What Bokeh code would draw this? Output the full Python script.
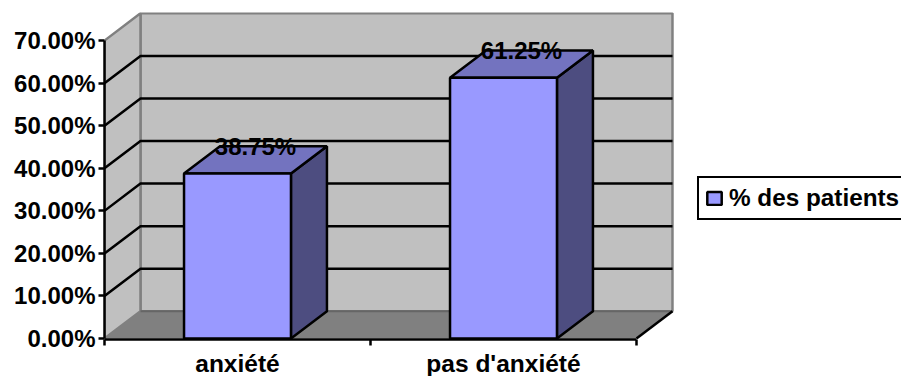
from bokeh.core.properties import value
from bokeh.embed import file_html
from bokeh.models import FixedTicker, Legend, LegendItem, PrintfTickFormatter, Range1d
from bokeh.plotting import figure
from bokeh.resources import INLINE

categories = ["anxiété", "pas d'anxiété"]
values = [38.75, 61.25]
y_ticks = [0, 10, 20, 30, 40, 50, 60, 70]
grid_levels = [10, 20, 30, 40, 50, 60]
series_name = "% des patients"

# Oblique depth of the 3D box, in data units
DX = 0.1353
DY = 6.4
BAR_W = 0.402
FLOOR_END = 2.0
WALL_TOP = 70.0
LINE_W = 2.5

FRONT = "#9999FF"
TOP = "#7373BF"
SIDE = "#4D4D80"
WALL = "#C0C0C0"
FLOOR = "#808080"
FONT = "Liberation Sans"

p = figure(
    width=901, height=376, output_backend="svg", toolbar_location=None,
    x_range=Range1d(0, 2.1429), y_range=Range1d(-0.235, 76.6),
    frame_width=570, frame_height=327,
    min_border_left=104, min_border_right=227, min_border_top=12, min_border_bottom=37,
    background_fill_color="white", border_fill_color="white", outline_line_color=None,
)
p.grid.visible = False

# Walls and floor of the box
x0, x1 = 0.0, FLOOR_END
p.patch([x0 + DX, x1 + DX, x1 + DX, x0 + DX], [DY, DY, WALL_TOP + DY, WALL_TOP + DY],
        fill_color=WALL, line_color=FLOOR, line_width=2.5)
p.patch([x0, x0 + DX, x0 + DX, x0], [0, DY, WALL_TOP + DY, WALL_TOP],
        fill_color=WALL, line_color=FLOOR, line_width=2.5)
p.patch([x0, x0 + DX, x1 + DX, x1], [0, DY, DY, 0], fill_color=FLOOR, line_color=None)
p.line([x0 + DX, x1 + DX], [DY, DY], line_color="#666666", line_width=2)
p.line([x1, x1 + DX], [0, DY], line_color="black", line_width=LINE_W)

# Gridlines run along the side wall and across the back wall
for g in grid_levels:
    p.line([x0, x0 + DX, x1 + DX], [g, g + DY, g + DY], line_color="black", line_width=LINE_W)

# Bars: side and top faces first, front face carries the legend entry
centers = [i + 0.5 for i in range(len(values))]
for c, v in zip(centers, values):
    l, r = c - BAR_W / 2, c + BAR_W / 2
    p.patch([r, r + DX, r + DX, r], [0, DY, v + DY, v], fill_color=SIDE, line_color="black", line_width=LINE_W)
    p.patch([l, r, r + DX, l + DX], [v, v, v + DY, v + DY], fill_color=TOP, line_color="black", line_width=LINE_W)
front = p.vbar(x=centers, top=values, bottom=0, width=BAR_W,
               fill_color=FRONT, line_color="black", line_width=LINE_W)

# Value labels sit at the back edge of each bar's top face
p.text(x=[c + DX / 2 for c in centers], y=[v + DY for v in values],
       text=[f"{v:.2f}%" for v in values],
       text_align="center", text_baseline="middle",
       text_font=value(FONT), text_font_size="24px", text_font_style="bold", text_color="black")

# Axes
ya = p.yaxis[0]
ya.ticker = FixedTicker(ticks=y_ticks)
ya.formatter = PrintfTickFormatter(format="%.2f%%")
ya.bounds = (0, 70)
ya.axis_line_width = LINE_W
ya.major_tick_line_width = LINE_W
ya.major_tick_in = 0
ya.major_tick_out = 6
ya.minor_tick_line_color = None
ya.major_label_standoff = 3
ya.major_label_text_font = FONT
ya.major_label_text_font_size = "24px"
ya.major_label_text_font_style = "bold"
ya.major_label_text_color = "black"

xa = p.xaxis[0]
xa.ticker = FixedTicker(ticks=centers, minor_ticks=[0, 1, 2])
xa.major_label_overrides = {c: n for c, n in zip(centers, categories)}
xa.bounds = (0, 2)
xa.axis_line_width = LINE_W
xa.major_tick_line_color = None
xa.major_tick_in = 0
xa.major_tick_out = 6
xa.minor_tick_line_width = LINE_W
xa.minor_tick_in = 0
xa.minor_tick_out = 6
xa.major_label_standoff = 4
xa.major_label_text_font = FONT
xa.major_label_text_font_size = "24.5px"
xa.major_label_text_font_style = "bold"
xa.major_label_text_color = "black"

legend = Legend(
    items=[LegendItem(label=series_name, renderers=[front])],
    location=(23, 119), orientation="vertical",
    border_line_color="black", border_line_alpha=1, border_line_width=2.5,
    background_fill_color="white", background_fill_alpha=1,
    padding=6, margin=0, spacing=0, label_standoff=6,
    glyph_width=18, glyph_height=16,
    label_text_font=FONT, label_text_font_size="24.3px", label_text_font_style="bold",
    label_text_color="black",
)
p.add_layout(legend, "right")

open("out.html", "w").write(file_html(p, INLINE))
